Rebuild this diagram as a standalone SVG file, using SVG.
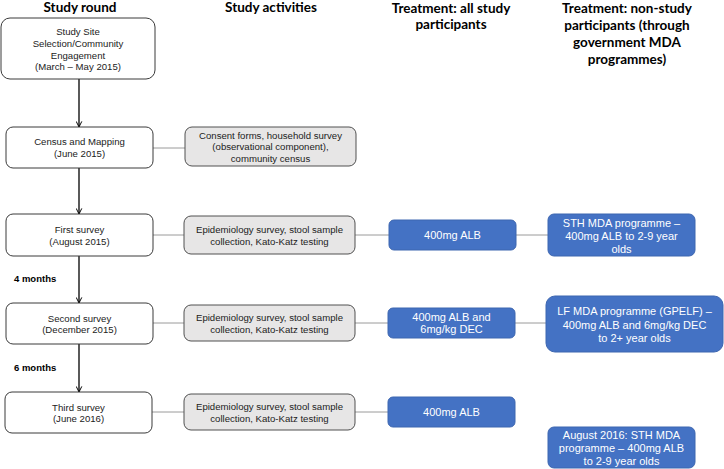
<svg xmlns="http://www.w3.org/2000/svg" width="724" height="469" viewBox="0 0 724 469">
<defs>
<marker id="arr" viewBox="0 0 10 10" refX="9" refY="5" markerWidth="7" markerHeight="7" markerUnits="userSpaceOnUse" orient="auto">
<path d="M1,1 L9,5 L1,9" fill="none" stroke="#000" stroke-width="1.4"/>
</marker>
<style>
.hd{font-family:Lato,"Liberation Sans",sans-serif;font-weight:bold;font-size:13.5px;fill:#000;text-anchor:middle}
.rb{fill:#fff;stroke:#3a3a3a;stroke-width:1}
.gb{fill:#e7e6e6;stroke:#505050;stroke-width:1}
.bb{fill:#4472c4;stroke:#3d66b0;stroke-width:1}
.t{font-family:"Liberation Sans",Arial,sans-serif;font-size:9.6px;fill:#222;text-anchor:middle}
.w{font-family:"Liberation Sans",Arial,sans-serif;font-size:11px;fill:#fff;text-anchor:middle}
.lb{font-family:"Liberation Sans",Arial,sans-serif;font-size:9.5px;font-weight:bold;fill:#000}
.gl{stroke:#9a9a9a;stroke-width:1;fill:none}
.ar{stroke:#000;stroke-width:1.3;fill:none;marker-end:url(#arr)}
</style>
</defs>

<g id="headers">
<text class="hd" x="80" y="12">Study round</text>
<text class="hd" x="271" y="12">Study activities</text>
<text class="hd" x="451" y="12.5">Treatment: all study</text>
<text class="hd" x="451" y="29">participants</text>
<text class="hd" x="627" y="12.5">Treatment: non-study</text>
<text class="hd" x="627" y="29.5">participants (through</text>
<text class="hd" x="627" y="46.5">government MDA</text>
<text class="hd" x="627" y="63.5">programmes)</text>
</g>

<g id="connectors">
<line class="ar" x1="79" y1="79" x2="79" y2="127"/>
<line class="ar" x1="79" y1="168" x2="79" y2="214"/>
<line class="ar" x1="79" y1="256" x2="79" y2="303"/>
<line class="ar" x1="79" y1="344" x2="79" y2="392"/>
<line class="gl" x1="153" y1="148" x2="185" y2="148"/>
<line class="gl" x1="153" y1="235" x2="184" y2="235"/>
<line class="gl" x1="153" y1="323" x2="184" y2="323"/>
<line class="gl" x1="152" y1="412" x2="184" y2="412"/>
<line class="gl" x1="355" y1="235" x2="389" y2="235"/>
<line class="gl" x1="355" y1="323" x2="388" y2="323"/>
<line class="gl" x1="355" y1="412" x2="388" y2="412"/>
<line class="gl" x1="516" y1="235" x2="548" y2="235"/>
<line class="gl" x1="515" y1="323" x2="546" y2="323"/>
</g>

<g id="interval-labels">
<text class="lb" x="14" y="282">4 months</text>
<text class="lb" x="14" y="371">6 months</text>
</g>

<g id="round1">
<rect class="rb" x="1" y="18" width="154" height="61" rx="9"/>
<text class="t" x="78" y="35">Study Site</text>
<text class="t" x="78" y="47">Selection/Community</text>
<text class="t" x="78" y="58.5">Engagement</text>
<text class="t" x="78" y="70">(March – May 2015)</text>
</g>

<g id="round2">
<rect class="rb" x="6" y="127" width="147" height="41" rx="7"/>
<text class="t" x="79.5" y="145">Census and Mapping</text>
<text class="t" x="79.5" y="157">(June 2015)</text>
</g>

<g id="round3">
<rect class="rb" x="6" y="214" width="147" height="42" rx="7"/>
<text class="t" x="79.5" y="233">First survey</text>
<text class="t" x="79.5" y="244.5">(August 2015)</text>
</g>

<g id="round4">
<rect class="rb" x="6" y="303" width="147" height="41" rx="7"/>
<text class="t" x="79.5" y="321.5">Second survey</text>
<text class="t" x="79.5" y="333">(December 2015)</text>
</g>

<g id="round5">
<rect class="rb" x="5" y="392" width="147" height="41" rx="7"/>
<text class="t" x="78.5" y="410.5">Third survey</text>
<text class="t" x="78.5" y="422">(June 2016)</text>
</g>

<g id="activity1">
<rect class="gb" x="185" y="127" width="171" height="39" rx="7"/>
<text class="t" x="270.5" y="138.5">Consent forms, household survey</text>
<text class="t" x="270.5" y="150">(observational component),</text>
<text class="t" x="270.5" y="161.5">community census</text>
</g>

<g id="activity2">
<rect class="gb" x="184" y="216" width="171" height="38" rx="7"/>
<text class="t" x="269.5" y="233">Epidemiology survey, stool sample</text>
<text class="t" x="269.5" y="244.5">collection, Kato-Katz testing</text>
</g>

<g id="activity3">
<rect class="gb" x="184" y="305" width="171" height="36" rx="7"/>
<text class="t" x="269.5" y="321">Epidemiology survey, stool sample</text>
<text class="t" x="269.5" y="332.5">collection, Kato-Katz testing</text>
</g>

<g id="activity4">
<rect class="gb" x="184" y="394" width="171" height="36" rx="7"/>
<text class="t" x="269.5" y="410">Epidemiology survey, stool sample</text>
<text class="t" x="269.5" y="421.5">collection, Kato-Katz testing</text>
</g>

<g id="treat1">
<rect class="bb" x="389" y="220" width="127" height="30" rx="5"/>
<text class="w" x="452.5" y="239">400mg ALB</text>
</g>

<g id="treat2">
<rect class="bb" x="388" y="308" width="127" height="30" rx="5"/>
<text class="w" x="451.5" y="320.5">400mg ALB and</text>
<text class="w" x="451.5" y="332.5">6mg/kg DEC</text>
</g>

<g id="treat3">
<rect class="bb" x="388" y="397" width="127" height="30" rx="5"/>
<text class="w" x="451.5" y="416">400mg ALB</text>
</g>

<g id="mda1">
<rect class="bb" x="548" y="214" width="147" height="42" rx="6"/>
<text class="w" x="621.5" y="226.5">STH MDA programme –</text>
<text class="w" x="621.5" y="239.5">400mg ALB to 2-9 year</text>
<text class="w" x="621.5" y="252.5">olds</text>
</g>

<g id="mda2">
<rect class="bb" x="546" y="296" width="177" height="56" rx="9"/>
<text class="w" x="634.5" y="315">LF MDA programme (GPELF) –</text>
<text class="w" x="634.5" y="328.5">400mg ALB and 6mg/kg DEC</text>
<text class="w" x="634.5" y="342">to 2+ year olds</text>
</g>

<g id="mda3">
<rect class="bb" x="548" y="427" width="147" height="41" rx="6"/>
<text class="w" x="621.5" y="438.5">August 2016: STH MDA</text>
<text class="w" x="621.5" y="451.5">programme – 400mg ALB</text>
<text class="w" x="621.5" y="464.5">to 2-9 year olds</text>
</g>
</svg>
